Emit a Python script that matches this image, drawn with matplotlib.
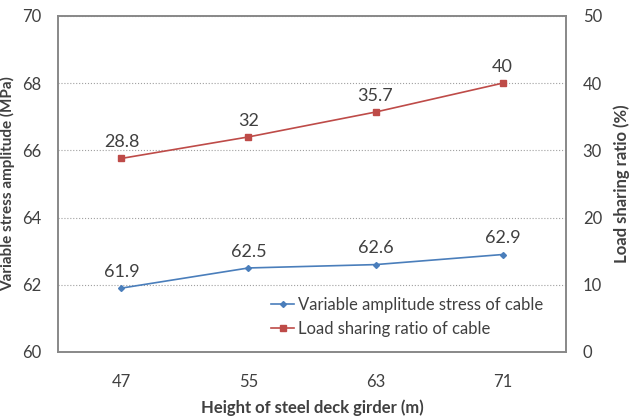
import numpy as np
import matplotlib.pyplot as plt

heights = ["47", "55", "63", "71"]
stress = [61.9, 62.5, 62.6, 62.9]
sharing = [28.8, 32.0, 35.7, 40.0]
stress_labels = ["61.9", "62.5", "62.6", "62.9"]
sharing_labels = ["28.8", "32", "35.7", "40"]

plt.rcParams['font.family'] = ['Lato', 'DejaVu Sans']

blue = '#4A7EBB'
red = '#BE4B48'
txt = '#404040'

fig, ax = plt.subplots(figsize=(6.29, 4.2), dpi=100)
fig.subplots_adjust(left=0.092, right=0.9, top=0.962, bottom=0.162)
ax2 = ax.twinx()

x = np.arange(len(heights))

l1, = ax.plot(x, stress, color=blue, lw=1.2, marker='D', ms=3,
              label='Variable amplitude stress of cable')
l2, = ax2.plot(x, sharing, color=red, lw=1.2, marker='s', ms=4,
               label='Load sharing ratio of cable')

# data labels above each point
for xi, v, s in zip(x, stress, stress_labels):
    ax.annotate(s, (xi, v), xytext=(0, 6), textcoords='offset points',
                ha='center', va='bottom', fontsize=13, color=txt)
for xi, v, s in zip(x, sharing, sharing_labels):
    ax2.annotate(s, (xi, v), xytext=(0, 6), textcoords='offset points',
                 ha='center', va='bottom', fontsize=13, color=txt)

ax.set_xlim(-0.5, 3.5)
ax.set_ylim(60, 70)
ax.set_yticks([60, 62, 64, 66, 68, 70])
ax2.set_ylim(0, 50)
ax2.set_yticks([0, 10, 20, 30, 40, 50])
ax.set_xticks(x)
ax.set_xticklabels(heights)

ax.grid(axis='y', color='#A0A0A0', linestyle=':', lw=0.8)
ax.set_axisbelow(True)

for a in (ax, ax2):
    for sp in a.spines.values():
        sp.set_color('#888888')
        sp.set_linewidth(1.2)
    a.tick_params(length=0, labelsize=12, colors=txt, pad=12)
ax.tick_params(axis='x', pad=16)

ax.set_xlabel('Height of steel deck girder (m)', fontsize=12, fontweight='bold',
              color=txt, labelpad=7)
ax.set_ylabel('Variable stress amplitude (MPa)', fontsize=11, fontweight='bold',
              color=txt, labelpad=5)
ax2.set_ylabel('Load sharing ratio (%)', fontsize=12, fontweight='bold',
               color=txt, labelpad=8)

leg = ax.legend(handles=[l1, l2], loc='lower right', frameon=False,
                fontsize=12, handlelength=1.4, handletextpad=0.2,
                labelspacing=0.5, labelcolor=txt,
                bbox_to_anchor=(0.984, 0.0))

fig.savefig('out.png', dpi=100)
